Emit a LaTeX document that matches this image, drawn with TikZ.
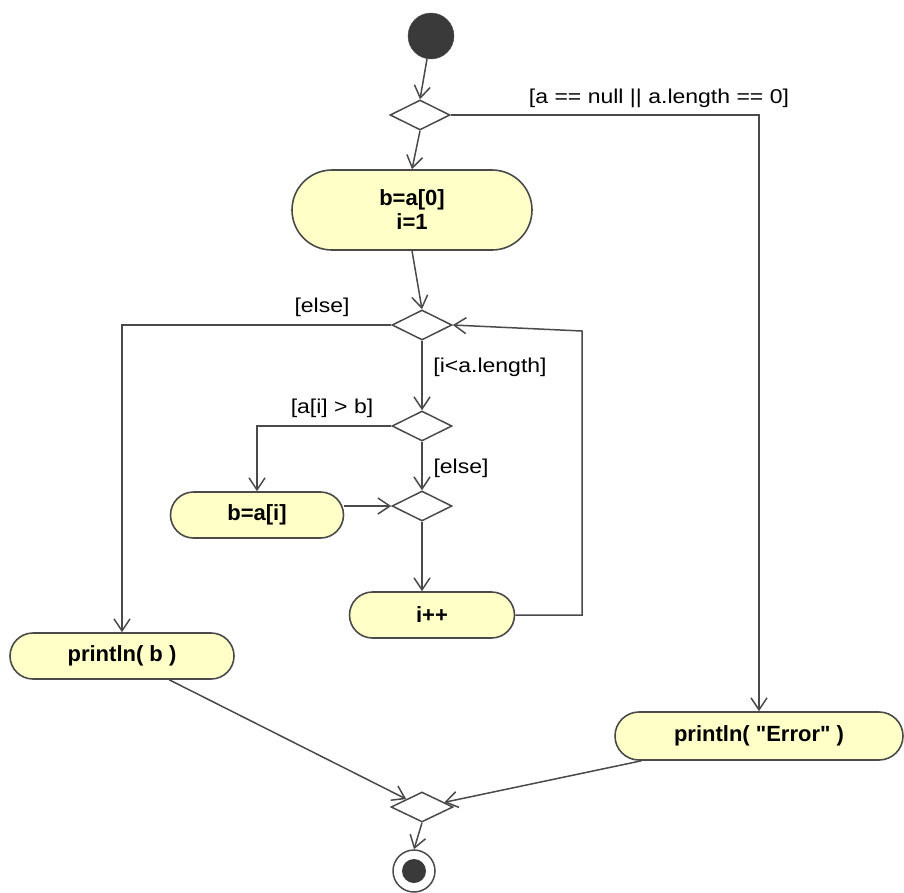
\documentclass[tikz,border=0pt]{standalone}
\usepackage{fontspec}
\setmainfont{Liberation Sans}
\newfontfamily\lblfont{Liberation Sans}[FakeStretch=1.15]
\newfontfamily\actfont{Liberation Sans}
\usetikzlibrary{arrows.meta,shapes.geometric,calc}
\definecolor{actfill}{HTML}{FFFFC8}
\definecolor{edgecol}{HTML}{4A4A4A}
\definecolor{dotcol}{HTML}{3A3A3A}
\begin{document}
\begin{tikzpicture}[x=1pt,y=-1pt,
  edge/.style={draw=edgecol,line width=1.5pt,-{Straight Barb[length=12pt,width=16pt]}},
  act/.style={draw=edgecol,fill=actfill,line width=1.6pt,inner sep=0pt,align=center,font=\actfont\fontsize{22}{24}\selectfont\bfseries},
  dec/.style={diamond,draw=edgecol,fill=white,line width=1.5pt,minimum width=60pt,minimum height=30pt,inner sep=0pt,aspect=2},
  lbl/.style={font=\lblfont\fontsize{20}{22}\selectfont,inner sep=0pt}]
\useasboundingbox (0,0) rectangle (904,892);
% nodes
\node[circle,fill=dotcol,draw=edgecol,minimum size=46pt,inner sep=0pt] (start) at (431,36) {};
\node[dec] (d1) at (420,115) {};
\node[act,minimum width=240pt,minimum height=80pt,rounded corners=40pt] (act1) at (412,210) {b=a[0]\\i=1};
\node[dec] (d2) at (422,325) {};
\node[dec] (d3) at (422,426) {};
\node[dec] (d4) at (422,506) {};
\node[act,minimum width=173pt,minimum height=46pt,rounded corners=23pt] (bai) at (257,515) {b=a[i]};
\node[act,minimum width=165pt,minimum height=46pt,rounded corners=23pt] (ipp) at (432,615) {i++};
\node[act,minimum width=224pt,minimum height=46pt,rounded corners=23pt] (pb) at (122,656) {println( b )};
\node[act,minimum width=288pt,minimum height=48pt,rounded corners=24pt] (err) at (759,736) {println( "Error" )};
\node[dec,minimum width=62pt] (d5) at (422,807) {};
\node[circle,draw=edgecol,fill=white,line width=1.5pt,minimum size=42pt,inner sep=0pt] (final) at (414,871) {};
\node[circle,fill=dotcol,minimum size=24pt,inner sep=0pt] (finaldot) at (final.center) {};
\coordinate (lp) at (582,331);
% labels
\node[lbl] (l1) at (659,98) {[a == null || a.length == 0]};
\node[lbl] (l2) at (322,307) {[else]};
\node[lbl] (l3) at (490,367) {[i<a.length]};
\node[lbl] (l4) at (332,408) {[a[i] > b]};
\node[lbl] (l5) at (461,468) {[else]};
% edges
\draw[edge] (start) -- (d1.north);
\draw[edge] (d1.south) -- (act1.north);
\draw[edge] (d1.east) -| (err.north);
\draw[edge] (act1.south) -- (d2.north);
\draw[edge] (d2.west) -| (pb.north);
\draw[edge] (d2.south) -- (d3.north);
\draw[edge] (d3.west) -| (bai.north);
\draw[edge] (d3.south) -- (d4.north);
\draw[edge] (d4.west -| bai.east) -- (d4.west);
\draw[edge] (d4.south) -- (d4.south |- ipp.north);
\draw[edge] (ipp.east) -| (lp) -- (d2.east);
\draw[edge] (pb) -- (d5);
\draw[edge] (err) -- (d5);
\draw[edge] (d5.south) -- (final.north);
\end{tikzpicture}
\end{document}
